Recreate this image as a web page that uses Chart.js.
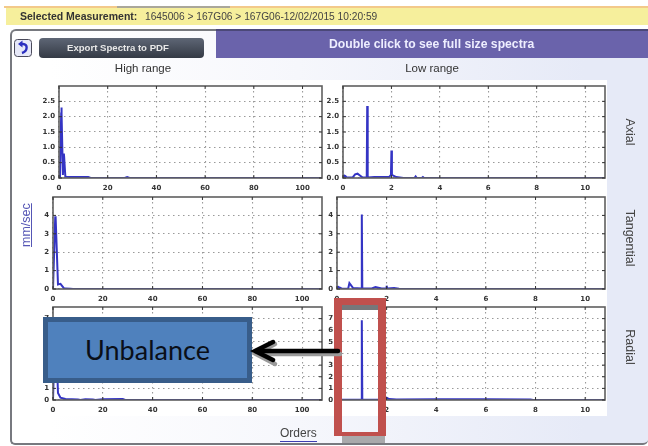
<!DOCTYPE html>
<html><head><meta charset="utf-8">
<script src="https://cdn.jsdelivr.net/npm/chart.js@4"></script>
<style>
html,body{margin:0;padding:0;background:#fff;width:648px;height:446px;overflow:hidden}
#soft{position:absolute;left:0;top:0;width:648px;height:446px;filter:blur(0.6px)}
.a{position:absolute;font-family:"Liberation Sans",sans-serif;white-space:nowrap}
canvas{position:absolute}
</style></head><body>
<div id="soft">
<div class="a" style="left:4px;top:6px;width:644px;height:2px;background:#f3c98a"></div>
<div class="a" style="left:117px;top:6px;width:113px;height:2px;background:#aaa79a"></div>
<div class="a" style="left:6px;top:8px;width:642px;height:17px;background:#f6ef9c"></div>
<div class="a" style="left:20px;top:9px;font-size:10.5px;line-height:15px;color:#333"><b>Selected Measurement:</b></div>
<div class="a" style="left:145px;top:9px;font-size:10.2px;line-height:15px;color:#444">1645006 &gt; 167G06 &gt; 167G06-12/02/2015 10:20:59</div>
<div class="a" style="left:10px;top:29px;width:638px;height:416px;box-sizing:border-box;border:2px solid #77797f;border-right:0;border-radius:6px 0 5px 5px;background:linear-gradient(90deg,#fff 0,#fff 6%,#f6f7fc 45%,#e6eaf7 90%)"></div>
<div class="a" style="left:40px;top:80px;width:567px;height:336px;background:#fff"></div>
<div class="a" style="left:216px;top:29px;width:432px;height:29px;box-sizing:border-box;border-top:2px solid #4b4878;background:#6a63ab;color:#eef;font-weight:bold;font-size:12.2px;line-height:27px;text-align:center;padding-right:0"><span style="position:absolute;left:113px;top:0">Double click to see full size spectra</span></div>
<div class="a" style="left:39px;top:38px;width:165px;height:20px;border-radius:4px;background:linear-gradient(#5e6675,#343a45);color:#e8e8e8;font-weight:bold;font-size:9.6px;line-height:20px;text-align:center"><span style="position:absolute;left:28px;top:0">Export Spectra to PDF</span></div>
<svg class="a" style="left:14px;top:39px" width="19" height="19"><rect x=".5" y=".5" width="17" height="17" rx="3" fill="#e6e8f8" stroke="#4a4a5a"/><path d="M6 5H9C14 5 14 12 8 14" fill="none" stroke="#2b2fc0" stroke-width="2.4"/><path d="M8.5 1.5L4 5L8.5 8.5Z" fill="#2b2fc0"/></svg>
<div class="a" style="left:78px;top:62px;width:130px;text-align:center;font-size:11.5px;color:#333">High range</div>
<div class="a" style="left:367px;top:62px;width:130px;text-align:center;font-size:11.5px;color:#333">Low range</div>
<div class="a" style="left:19px;top:204px;width:14px;height:43px"><div class="a" style="left:0;top:43px;transform-origin:0 0;transform:rotate(-90deg);font-size:12.5px;line-height:14px;color:#5556b5;text-decoration:underline">mm/sec</div></div>
<div class="a" style="left:630px;top:132px;transform:translate(-50%,-50%) rotate(90deg);font-size:12.5px;color:#444">Axial</div>
<div class="a" style="left:630px;top:238px;transform:translate(-50%,-50%) rotate(90deg);font-size:12.5px;color:#444">Tangential</div>
<div class="a" style="left:630px;top:347px;transform:translate(-50%,-50%) rotate(90deg);font-size:12.5px;color:#444">Radial</div>
<div class="a" style="left:280px;top:426px;font-size:12px;color:#444;border-bottom:1px solid #3c3cb0;line-height:15px">Orders</div>
<canvas id="c0"></canvas><canvas id="c1"></canvas><canvas id="c2"></canvas>
<canvas id="c3"></canvas><canvas id="c4"></canvas><canvas id="c5"></canvas>
</div>
<div class="a" style="left:43px;top:317px;width:209px;height:66px;box-sizing:border-box;border:5px solid #385d8a;background:#4f81bd;color:#0a0f18;font-family:Lato,sans-serif;font-size:27px;line-height:56px;text-align:center">Unbalance</div>
<div class="a" style="left:342px;top:305px;width:36px;height:5px;background:#77777a"></div>
<div class="a" style="left:342px;top:436px;width:43px;height:7px;background:#a9a9ab"></div>
<div class="a" style="left:334px;top:298px;width:52px;height:138px;box-sizing:border-box;border:solid #c0504d;border-width:7px 8px 4px 8px"></div>
<svg class="a" style="left:250px;top:335px" width="92" height="34">
<g fill="none" stroke="#9a9a9a" stroke-width="4.5" stroke-linecap="round"><path d="M8 19H90"/><path d="M25 9L6 19L25 29"/></g>
<g fill="none" stroke="#000" stroke-width="4.5" stroke-linecap="round"><path d="M6 16H88"/><path d="M23 7L5 16L23 25"/></g>
</svg>
<script>
const highTicks=[0,20,40,60,80,100];
const lowTicks=[0,2,4,6,8,10];
const axialTicks=[0,0.5,1.0,1.5,2.0,2.5];
const tangentialTicks=[0,1,2,3,4];
const radialTicks=[0,1,2,3,4,5,6,7];

const highAxialX=[0,0.4,0.9,1.0,1.1,1.6,1.9,2.0,2.1,2.6,3,5,8,12,13,27,28,29,108];
const highAxialY=[0,0.1,2.1,2.3,2.1,0.1,0.7,0.8,0.7,0.05,0.04,0.03,0.03,0.03,0,0,0.03,0,0];
const lowAxialX=[0,0.05,0.1,0.15,0.4,0.5,0.6,0.7,0.8,0.98,1.0,1.02,1.3,1.9,1.98,2.0,2.02,2.2,2.5,2.95,3.0,3.05,3.25,3.3,3.35,10.8];
const lowAxialY=[0,0.08,0.06,0.02,0.02,0.12,0.14,0.08,0.02,0.02,2.35,0.02,0.03,0.03,0.1,0.9,0.1,0.03,0,0,0.05,0,0,0.03,0,0];
const highTangentialX=[0,0.9,1.0,1.1,2,3,4.5,5,7,8,108];
const highTangentialY=[0,3.9,3.95,3.9,0.25,0.28,0.02,0.03,0.02,0,0];
const lowTangentialX=[0,0.05,0.1,0.2,0.45,0.5,0.65,0.98,1.0,1.02,1.4,1.55,1.8,1.98,2.0,2.02,2.3,2.5,2.7,10.8];
const lowTangentialY=[0,0.12,0.08,0.02,0.02,0.32,0.05,0.03,4.05,0.03,0.03,0.1,0.03,0.03,0.18,0.03,0.06,0.02,0,0];
const highRadialX=[0,0.9,1.0,1.1,2,3,5,10,11,13,16,17,20,28,29,108];
const highRadialY=[0,6.5,7.0,6.5,0.6,0.2,0.08,0.05,0,0.06,0.05,0,0.06,0.08,0,0];
const lowRadialX=[0,0.98,1.0,1.02,1.9,2.0,2.1,2.4,4,6,7.8,7.9,10.8];
const lowRadialY=[0.03,0.03,6.85,0.03,0.03,0.2,0.08,0.05,0.06,0.06,0.05,0,0];

const plots=[
 {id:'c0',l:59,r:322,t:86,b:178,xMax:108,yMax:3,xs:highAxialX,ys:highAxialY,xt:highTicks,yt:axialTicks,fix:1},
 {id:'c1',l:343,r:605,t:86,b:178,xMax:10.82,yMax:3,xs:lowAxialX,ys:lowAxialY,xt:lowTicks,yt:axialTicks,fix:1},
 {id:'c2',l:53,r:322,t:197,b:289,xMax:108,yMax:5,xs:highTangentialX,ys:highTangentialY,xt:highTicks,yt:tangentialTicks},
 {id:'c3',l:337,r:605,t:197,b:289,xMax:10.8,yMax:5,xs:lowTangentialX,ys:lowTangentialY,xt:lowTicks,yt:tangentialTicks},
 {id:'c4',l:53,r:322,t:307,b:400,xMax:108,yMax:8,xs:highRadialX,ys:highRadialY,xt:highTicks,yt:radialTicks},
 {id:'c5',l:337,r:605,t:307,b:400,xMax:10.8,yMax:8,xs:lowRadialX,ys:lowRadialY,xt:lowTicks,yt:radialTicks}
];
const ML=22,MB=18,MT=3,MR=3;
const tickFont={family:'"DejaVu Sans"',size:7,weight:'bold'};
const frame={id:'frame',afterDatasetsDraw(c){
 const a=c.chartArea,x=c.ctx;x.save();x.strokeStyle='#5f5f5f';x.lineWidth=1.6;x.strokeRect(a.left,a.top,a.width,a.height);
 x.lineWidth=1;x.strokeStyle='#333';
 c.scales.x.ticks.forEach(t=>{const p=c.scales.x.getPixelForValue(t.value);x.beginPath();x.moveTo(p,a.top);x.lineTo(p,a.top+3);x.moveTo(p,a.bottom);x.lineTo(p,a.bottom-3);x.stroke();});
 c.scales.y.ticks.forEach(t=>{const p=c.scales.y.getPixelForValue(t.value);x.beginPath();x.moveTo(a.left,p);x.lineTo(a.left+3,p);x.moveTo(a.right,p);x.lineTo(a.right-3,p);x.stroke();});
 x.restore();}};
plots.forEach(p=>{
 const cv=document.getElementById(p.id);
 const w=p.r-p.l+ML+MR,h=p.b-p.t+MB+MT;
 cv.style.left=(p.l-ML)+'px';cv.style.top=(p.t-MT)+'px';
 cv.width=w;cv.height=h;cv.style.width=w+'px';cv.style.height=h+'px';
 new Chart(cv,{type:'line',plugins:[frame],
  data:{datasets:[{data:p.xs.map((x,i)=>({x:x,y:p.ys[i]})),borderColor:'#3434c4',borderWidth:2,pointRadius:0,tension:0}]},
  options:{responsive:false,animation:false,events:[],
   layout:{padding:{left:0,right:MR,top:MT,bottom:0}},
   plugins:{legend:{display:false},tooltip:{enabled:false}},
   scales:{
    x:{type:'linear',min:0,max:p.xMax,
      afterBuildTicks(s){s.ticks=p.xt.map(v=>({value:v}));},
      afterFit(s){s.height=MB;s.paddingLeft=0;s.paddingRight=0;},
      ticks:{autoSkip:false,maxRotation:0,padding:6,color:'#333',font:tickFont,callback:v=>String(v)},
      grid:{color:'#9a9a9a',lineWidth:1.1,drawTicks:false,tickLength:0},border:{display:false,dash:[1.5,3.5]}},
    y:{type:'linear',min:0,max:p.yMax,
      afterBuildTicks(s){s.ticks=p.yt.map(v=>({value:v}));},
      afterFit(s){s.width=ML;s.paddingTop=0;s.paddingBottom=0;},
      ticks:{autoSkip:false,padding:4,color:'#333',font:tickFont,callback:v=>p.fix?v.toFixed(1):String(v)},
      grid:{color:'#9a9a9a',lineWidth:1.1,drawTicks:false,tickLength:0},border:{display:false,dash:[1.5,3.5]}}
   }}});
});
</script>
</body></html>
